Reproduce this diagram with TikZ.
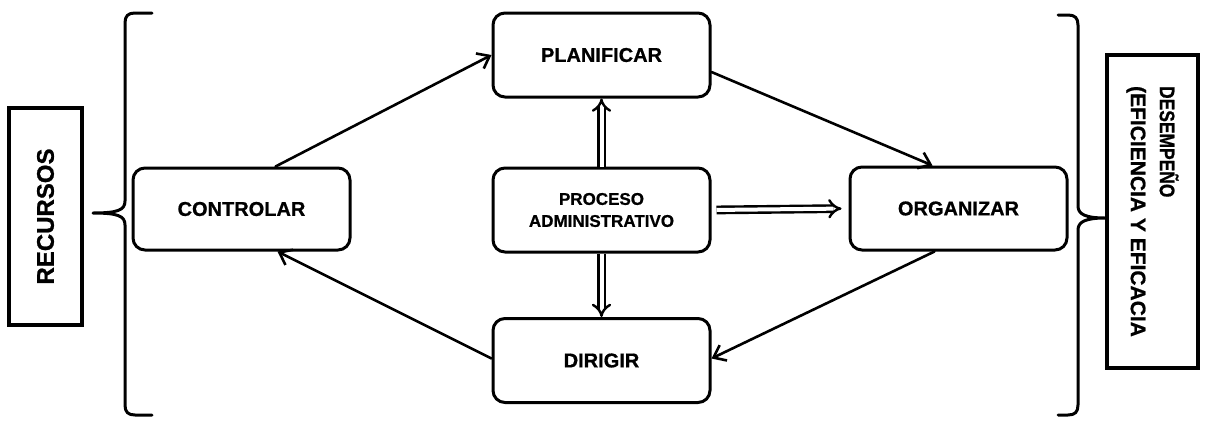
\documentclass[tikz,border=0pt]{standalone}
\usepackage{fontspec}
\usepackage{graphicx}
\setmainfont{Liberation Sans}[BoldFeatures={FakeBold=0.8}]
\usetikzlibrary{arrows.meta}
\begin{document}
\begin{tikzpicture}[x=1pt,y=-1pt,
  stage/.style={draw, line width=3pt, rounded corners=12pt,
    minimum width=217pt, minimum height=84pt, inner sep=0pt, align=center,
    font=\bfseries\fontsize{20}{24}\selectfont},
  sidebox/.style={draw, line width=3.5pt, inner sep=0pt, align=left},
  flow/.style={line width=2.6pt, line cap=round,
    -{Straight Barb[length=11pt,width=17pt,line width=2.6pt]}},
  feed/.style={double, line width=2.4pt, double distance=4pt,
    -{Implies[length=10pt]}},
  brace/.style={line width=3pt, line join=round, line cap=round}]
\useasboundingbox (0,0) rectangle (1208,421);

% side boxes
\node[sidebox, rotate=90, minimum width=217pt, minimum height=73pt,
  font=\bfseries\fontsize{24}{28}\selectfont] (rec) at (45.5,216.5) {RECURSOS};
\node[sidebox, rotate=-90, minimum width=313pt, minimum height=91pt,
  font=\bfseries\fontsize{21}{29}\selectfont] (des) at (1152.5,211.5)
  {\scalebox{0.83}[1]{DESEMPEÑO}\\(EFICIENCIA Y EFICACIA};

% stages of the administrative process
\node[stage] (plan) at (601.5,55) {PLANIFICAR};
\node[stage, font=\bfseries\fontsize{17}{22}\selectfont] (proc) at (601.5,210)
  {PROCESO\\ADMINISTRATIVO};
\node[stage] (dir) at (601.5,360.5) {DIRIGIR};
\node[stage, minimum height=82pt] (ctrl) at (241.5,209) {CONTROLAR};
\node[stage, minimum height=83pt] (org) at (958.5,208.5) {ORGANIZAR};

% cycle
\draw[flow] ([xshift=34pt]ctrl.north) -- (plan.west);
\draw[flow] ([yshift=-17pt]plan.east) -- ([xshift=-26pt]org.north);
\draw[flow] ([xshift=-24pt]org.south) -- ([yshift=2pt]dir.east);
\draw[flow] ([yshift=2pt]dir.west) -- ([xshift=36pt]ctrl.south);

% from the central process
\draw[feed] (proc.north) -- (plan.south);
\draw[feed] (proc.south) -- (dir.north);
\draw[feed, shorten <=5pt, shorten >=7pt] (proc.east) -- (org.west);

% braces
\draw[brace] (152,13) -- (135,13) .. controls (128,13) and (125,16) .. (125,23)
  -- (125,201) .. controls (125,210) and (118,213) .. (93,213)
  .. controls (118,213) and (125,216) .. (125,225)
  -- (125,405) .. controls (125,412) and (128,415) .. (135,415) -- (152,415);
\draw[brace] (1058,15) -- (1068,15) .. controls (1075,15) and (1078,18) .. (1078,25)
  -- (1078,206) .. controls (1078,214) and (1085,218) .. (1105,218)
  .. controls (1085,218) and (1078,222) .. (1078,230)
  -- (1078,405) .. controls (1078,412) and (1075,415) .. (1068,415) -- (1058,415);
\end{tikzpicture}
\end{document}
